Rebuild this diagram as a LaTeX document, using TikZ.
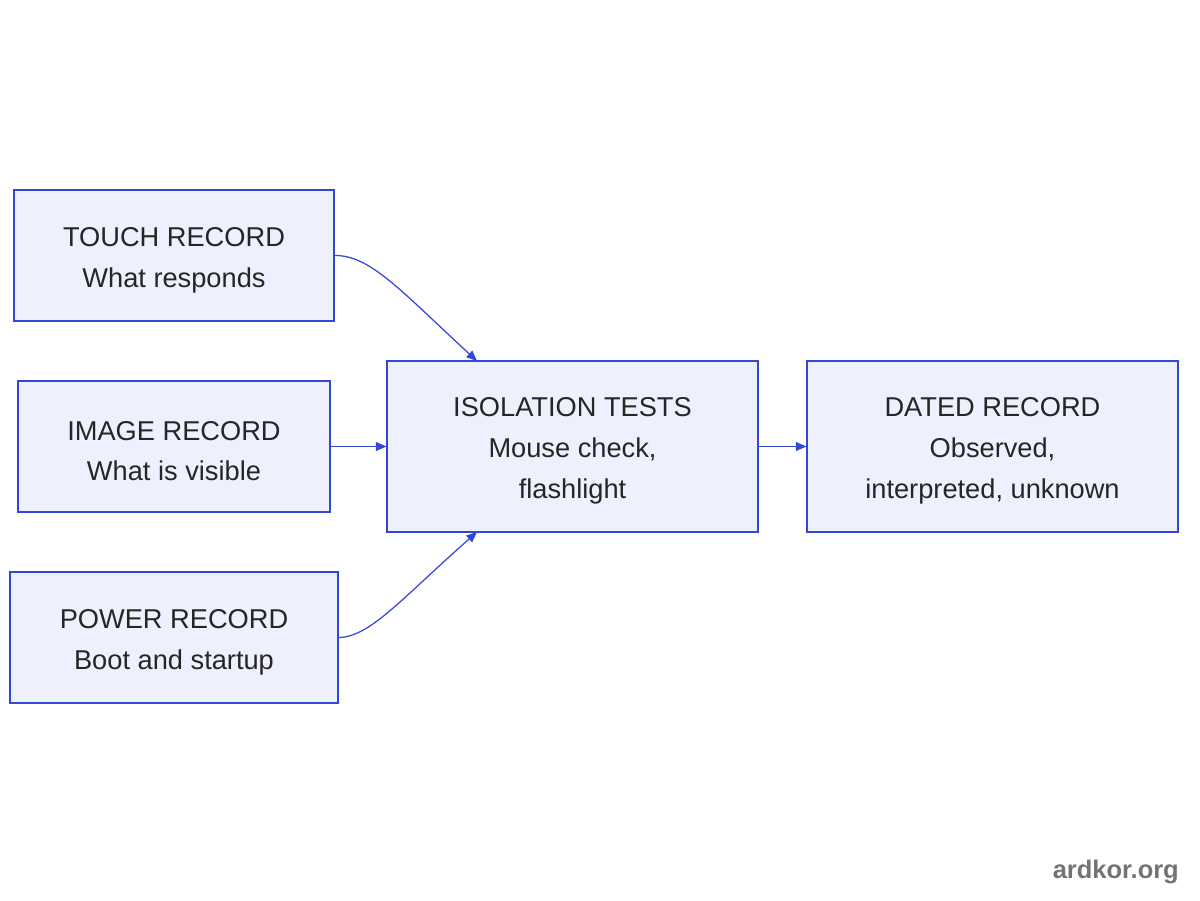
\documentclass[tikz,border=0pt]{standalone}
\usepackage{fontspec}
\setmainfont{Liberation Sans}
\usetikzlibrary{arrows.meta}
\definecolor{bfill}{HTML}{EEF0FD}
\definecolor{bline}{HTML}{3347D6}
\newcommand{\dn}{\rule{0pt}{16pt}}
\begin{document}
\begin{tikzpicture}[x=0.02cm,y=-0.02cm,
  box/.style={draw=bline,fill=bfill,line width=0.6pt,align=center,inner sep=0pt,
    font=\fontsize{15.5}{23.2}\selectfont,text=black!85},
  arr/.style={draw=bline,line width=0.7pt,-{Triangle[length=6pt,width=5pt]}}]
\useasboundingbox (0,0) rectangle (1200,900);
\node[box,minimum width=320*0.02cm,minimum height=131*0.02cm] (t) at (174,255.5) {\dn TOUCH RECORD\\What responds};
\node[box,minimum width=312*0.02cm,minimum height=131*0.02cm] (i) at (174,446.5) {\dn IMAGE RECORD\\What is visible};
\node[box,minimum width=328*0.02cm,minimum height=131*0.02cm] (p) at (174,637.5) {\dn POWER RECORD\\Boot and startup};
\node[box,minimum width=371*0.02cm,minimum height=171*0.02cm] (s) at (572.5,446.5) {\dn ISOLATION TESTS\\Mouse check,\\flashlight};
\node[box,minimum width=371*0.02cm,minimum height=171*0.02cm] (d) at (992.5,446.5) {\dn DATED RECORD\\Observed,\\interpreted, unknown};
\coordinate (sa) at (477,361);
\coordinate (sb) at (477,532);
\draw[arr] (t.east) .. controls (370,255) and (400,290) .. (sa);
\draw[arr] (p.east) .. controls (370,637) and (400,600) .. (sb);
\draw[arr] (i) -- (s);
\draw[arr] (s) -- (d);
\node[anchor=east,text=black!55,font=\fontsize{14.5}{16}\selectfont\bfseries] (w) at (1185,872) {ardkor.org};
\end{tikzpicture}
\end{document}
